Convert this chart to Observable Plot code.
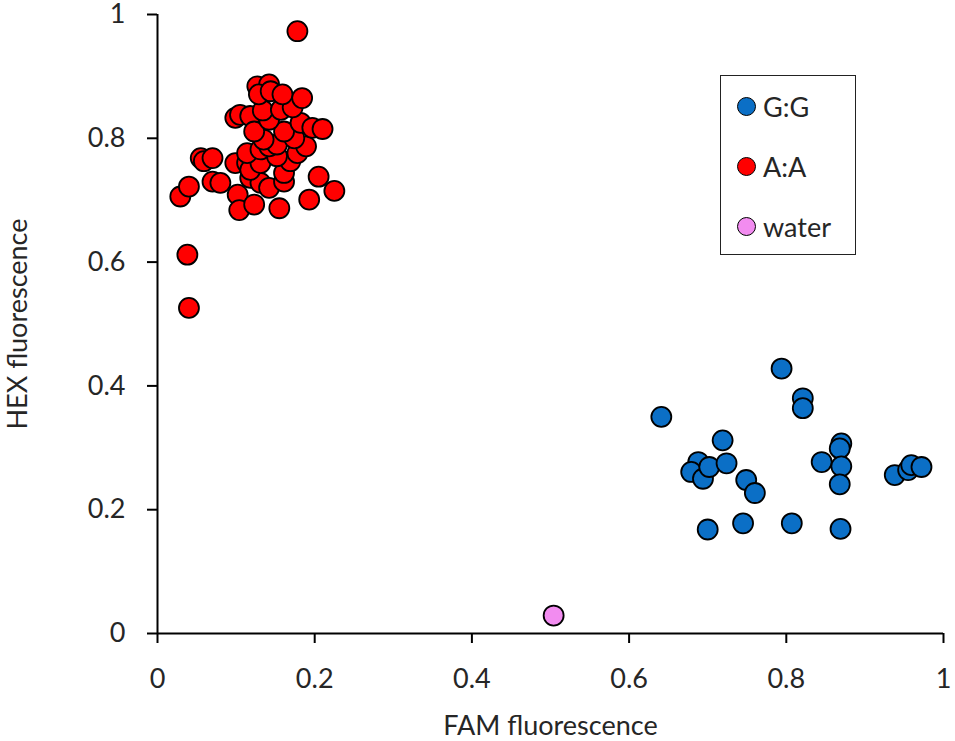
<!DOCTYPE html>
<html>
<head>
<meta charset="utf-8">
<script src="https://cdn.jsdelivr.net/npm/d3@7"></script>
<script src="https://cdn.jsdelivr.net/npm/@observablehq/plot@0.6"></script>
<style>
  body { margin: 0; background: #fff; font-family: Lato, "Open Sans", sans-serif; }
  #chart { position: relative; width: 955px; height: 741px; }
  #chart svg { overflow: visible; }
  .legend { position: absolute; left: 720px; top: 75px; width: 136px; height: 180px;
    border: 1.5px solid #222; box-sizing: border-box; background: #fff; }
  .legend .item { display: flex; align-items: center; height: 60px; padding-left: 16px;
    font-size: 27px; color: #262626; }
  .legend .sw { width: 17px; height: 17px; border-radius: 50%; border: 1.8px solid #000;
    margin-right: 7px; flex: none; }
</style>
</head>
<body>
<div id="chart"></div>
<script>
// genotype groups and their colours
const groups = ["G:G", "A:A", "water"];
const colors = ["#0b6fc6", "#ff0000", "#f28cf0"];

// axis ticks
const xTicks = [0, 0.2, 0.4, 0.6, 0.8, 1];
const yTicks = [0, 0.2, 0.4, 0.6, 0.8, 1];

// G:G samples (FAM, HEX)
const ggFAM = [0.794, 0.641, 0.821, 0.821, 0.719, 0.688, 0.679, 0.694, 0.702, 0.724, 0.749, 0.760,
  0.700, 0.745, 0.807, 0.869, 0.845, 0.870, 0.868, 0.870, 0.868, 0.938, 0.955, 0.959, 0.972];
const ggHEX = [0.428, 0.350, 0.380, 0.364, 0.312, 0.277, 0.261, 0.250, 0.269, 0.275, 0.248, 0.227,
  0.168, 0.178, 0.178, 0.169, 0.277, 0.307, 0.299, 0.270, 0.241, 0.256, 0.264, 0.272, 0.269];

// A:A samples (FAM, HEX)
const aaFAM = [0.178, 0.038, 0.040, 0.029, 0.040, 0.055, 0.059, 0.070, 0.070, 0.080, 0.102, 0.104,
  0.123, 0.155, 0.193, 0.205, 0.225, 0.099, 0.105, 0.118, 0.099, 0.114, 0.123, 0.118, 0.131, 0.142,
  0.161, 0.161, 0.118, 0.131, 0.169, 0.152, 0.114, 0.131, 0.142, 0.152, 0.178, 0.189, 0.174, 0.135,
  0.123, 0.161, 0.182, 0.197, 0.210, 0.142, 0.134, 0.157, 0.172, 0.184, 0.127, 0.142, 0.129, 0.144, 0.159];
const aaHEX = [0.973, 0.612, 0.526, 0.706, 0.722, 0.768, 0.763, 0.768, 0.730, 0.728, 0.709, 0.684,
  0.693, 0.687, 0.701, 0.738, 0.715, 0.833, 0.838, 0.836, 0.760, 0.760, 0.755, 0.736, 0.728, 0.720,
  0.730, 0.744, 0.749, 0.760, 0.763, 0.771, 0.776, 0.782, 0.787, 0.790, 0.776, 0.787, 0.800, 0.798,
  0.811, 0.811, 0.825, 0.817, 0.815, 0.830, 0.845, 0.846, 0.850, 0.865, 0.884, 0.887, 0.871, 0.876, 0.871];

// no-template control
const waterFAM = [0.504];
const waterHEX = [0.029];

const rows = [
  ...ggFAM.map((v, i) => ({group: "G:G", fam: v, hex: ggHEX[i]})),
  ...aaFAM.map((v, i) => ({group: "A:A", fam: v, hex: aaHEX[i]})),
  ...waterFAM.map((v, i) => ({group: "water", fam: v, hex: waterHEX[i]}))
];

const chart = Plot.plot({
  width: 955,
  height: 741,
  marginLeft: 157,
  marginRight: 12,
  marginTop: 14,
  marginBottom: 108,
  style: {fontFamily: 'Lato, "Open Sans", sans-serif', fontSize: "27px", color: "#262626", background: "#fff"},
  x: {domain: [0, 1]},
  y: {domain: [0, 1]},
  color: {domain: groups, range: colors},
  marks: [
    Plot.axisX({ticks: xTicks, tickFormat: d => String(d), tickSize: 10, tickPadding: 25,
      stroke: "#000", strokeWidth: 2, label: "FAM fluorescence", labelAnchor: "center", labelArrow: "none", labelOffset: 101}),
    Plot.axisY({ticks: yTicks, tickFormat: d => String(d), tickSize: 10, tickPadding: 22,
      stroke: "#000", strokeWidth: 2, label: "HEX fluorescence", labelAnchor: "center", labelArrow: "none", labelOffset: 150}),
    Plot.ruleY([0], {stroke: "#000", strokeWidth: 2}),
    Plot.ruleX([0], {stroke: "#000", strokeWidth: 2}),
    Plot.dot(rows, {x: "fam", y: "hex", fill: "group", r: 10, stroke: "#000", strokeWidth: 1.8})
  ]
});

const wrap = d3.select("#chart");
wrap.append(() => chart);

// legend box inside the plot area
const legend = wrap.append("div").attr("class", "legend");
groups.forEach((g, i) => {
  const item = legend.append("div").attr("class", "item");
  item.append("span").attr("class", "sw").style("background", colors[i]);
  item.append("span").text(g);
});
</script>
</body>
</html>
